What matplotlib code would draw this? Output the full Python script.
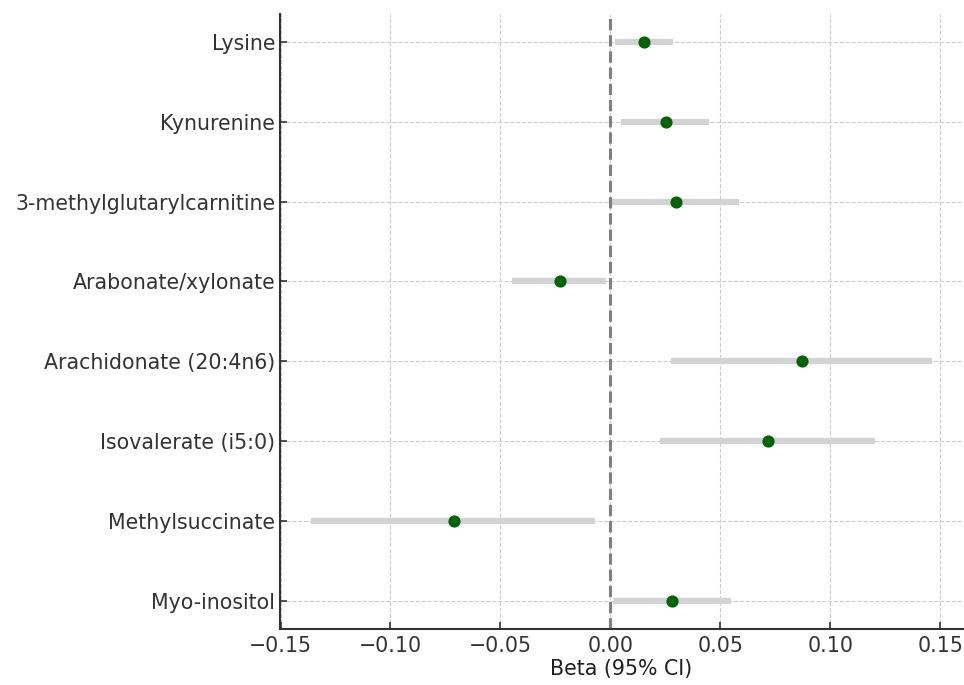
import matplotlib.pyplot as plt
import numpy as np

# metabolites, top to bottom
metabolites = ['Lysine', 'Kynurenine', '3-methylglutarylcarnitine', 'Arabonate/xylonate',
               'Arachidonate (20:4n6)', 'Isovalerate (i5:0)', 'Methylsuccinate', 'Myo-inositol']
beta = [0.0155, 0.0251, 0.0297, -0.0231, 0.0870, 0.0715, -0.0713, 0.0279]
ci_low = [0.0022, 0.0050, 0.0006, -0.0446, 0.0275, 0.0225, -0.1361, 0.0012]
ci_high = [0.0285, 0.0448, 0.0583, -0.0020, 0.1463, 0.1202, -0.0068, 0.0547]

y_pos = np.arange(len(metabolites))[::-1]

fig = plt.figure(figsize=(9.64, 6.85), dpi=100)
ax = fig.add_axes([0.2905, 0.082, 0.7085, 0.8976])

ax.hlines(y_pos, ci_low, ci_high, color='lightgray', linewidth=4.5, zorder=2)
ax.scatter(beta, y_pos, color='darkgreen', s=60, zorder=3)
ax.axvline(0, color='gray', linestyle='--', linewidth=2.2, zorder=2)

ax.set_yticks(y_pos)
ax.set_yticklabels(metabolites, fontsize=14.8, color='#1e1e1e')
ax.tick_params(axis='x', labelsize=14.8, labelcolor='#1e1e1e', pad=5)
ax.tick_params(direction='in', length=5, width=1.2, colors='#333333')
ax.set_xticks(np.arange(-0.15, 0.151, 0.05))
ax.set_xlabel('Beta (95% CI)', fontsize=14.8, color='#1e1e1e', labelpad=2)

ax.grid(True, linestyle='--', color='#cccccc', linewidth=0.8, zorder=0)
ax.set_axisbelow(True)
for side in ['top', 'right']:
    ax.spines[side].set_visible(False)
for side in ['left', 'bottom']:
    ax.spines[side].set_linewidth(1.5)
    ax.spines[side].set_color('#333333')

plt.savefig('out.png', dpi=100)
